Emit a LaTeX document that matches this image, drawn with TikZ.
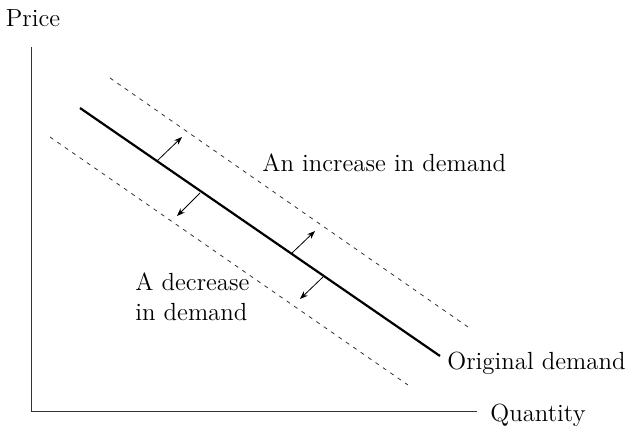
\documentclass[tikz,border=0pt]{standalone}
\usetikzlibrary{arrows.meta, positioning}
\begin{document}
\begin{tikzpicture}[x=0.5pt, y=-0.5pt,
    axis/.style={line width=0.5pt, black!80},
    demand/.style={line width=1.1pt},
    shifted/.style={dash pattern=on 2pt off 2.5pt, line width=0.4pt, black!80},
    shiftarr/.style={-{Stealth[length=4pt, width=3pt]}, line width=0.4pt},
    lbl/.style={font=\fontsize{12.4}{15}\selectfont, inner sep=0pt, align=left}
  ]
  \useasboundingbox (0,0) rectangle (634,435);

  % axes
  \coordinate (origin) at (32,411);
  \coordinate (ytop) at (32,47);
  \coordinate (xend) at (477,411);
  \draw[axis] (ytop) -- (origin) -- (xend);
  \node[lbl] (price) at (33,18) {Price};
  \node[lbl, anchor=west] (qty) at (490,415) {Quantity};

  % demand curves
  \coordinate (d0) at (80,108);
  \coordinate (d1) at (440,356);
  \coordinate (up0) at (110,78);
  \coordinate (up1) at (468,327);
  \coordinate (dn0) at (50,137);
  \coordinate (dn1) at (408,385);
  \draw[demand] (d0) -- (d1);
  \draw[shifted] (up0) -- (up1);
  \draw[shifted] (dn0) -- (dn1);

  % shift arrows
  \coordinate (s1) at (157,161);
  \coordinate (h1) at (182,137);
  \coordinate (s2) at (200,193);
  \coordinate (h2) at (177,216);
  \coordinate (s3) at (292,253);
  \coordinate (h3) at (315,231);
  \coordinate (s4) at (323,277);
  \coordinate (h4) at (300,299);
  \draw[shiftarr] (s1) -- (h1);
  \draw[shiftarr] (s2) -- (h2);
  \draw[shiftarr] (s3) -- (h3);
  \draw[shiftarr] (s4) -- (h4);

  % labels
  \node[lbl, anchor=west] (inc) at (262,163) {An increase in demand};
  \node[lbl, anchor=west] (dec) at (135,297) {A decrease\\in demand};
  \node[lbl, anchor=west] (orig) at (447,363) {Original demand};
\end{tikzpicture}
\end{document}
